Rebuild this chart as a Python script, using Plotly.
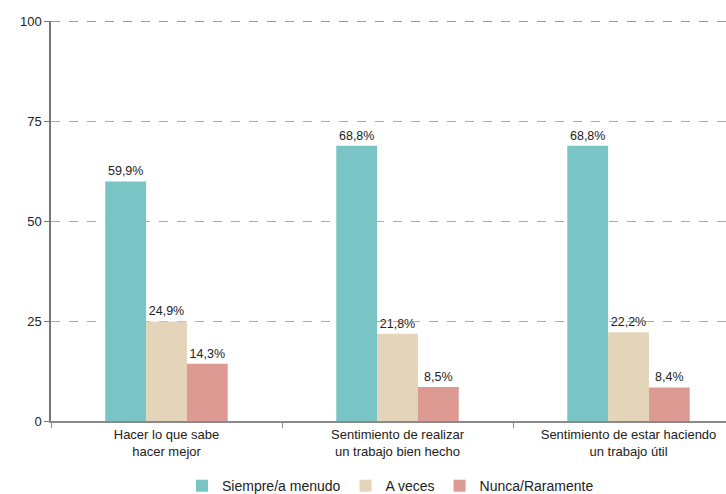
import plotly.graph_objects as go

categories = [
    "Hacer lo que sabe<br>hacer mejor",
    "Sentimiento de realizar<br>un trabajo bien hecho",
    "Sentimiento de estar haciendo<br>un trabajo útil",
]
series_names = ["Siempre/a menudo", "A veces", "Nunca/Raramente"]
siempre = [59.9, 68.8, 68.8]
a_veces = [24.9, 21.8, 22.2]
nunca = [14.3, 8.5, 8.4]
y_ticks = [0, 25, 50, 75, 100]

colors = ["#79C4C4", "#E3D4BA", "#DC9A92"]
font_family = "Liberation Sans, Arial, sans-serif"

fig = go.Figure()
for name, vals, col in zip(series_names, [siempre, a_veces, nunca], colors):
    fig.add_trace(go.Bar(
        name=name,
        x=categories,
        y=vals,
        marker=dict(color=col, line=dict(width=0)),
        texttemplate="%{y:.1f}%",
        textposition="outside",
        textfont=dict(size=12.5, color="#222222", family=font_family),
        cliponaxis=False,
    ))

fig.update_layout(
    width=726,
    height=494,
    margin=dict(l=51, r=0, t=21, b=73),
    paper_bgcolor="white",
    plot_bgcolor="white",
    separators=",.",
    barmode="group",
    bargap=0.47,
    bargroupgap=0,
    font=dict(family=font_family, size=13, color="#222222"),
    showlegend=True,
    legend=dict(
        orientation="h",
        x=0.503,
        xanchor="center",
        yref="container",
        y=0.016,
        yanchor="middle",
        font=dict(size=14, color="#222222"),
        itemwidth=30,
        traceorder="normal",
    ),
    xaxis=dict(
        range=[-0.5, 2.422],
        showgrid=False,
        showline=True,
        linecolor="#8a8a8a",
        linewidth=2,
        ticks="outside",
        tickson="boundaries",
        ticklen=5,
        tickcolor="#8a8a8a",
        tickfont=dict(size=13, color="#222222"),
        zeroline=False,
    ),
    yaxis=dict(
        range=[0, 100],
        tickvals=y_ticks,
        showgrid=True,
        gridcolor="#aaaaaa",
        griddash="dash",
        gridwidth=1,
        showline=True,
        linecolor="#777777",
        linewidth=1.5,
        ticks="outside",
        ticklen=5,
        tickcolor="#777777",
        tickfont=dict(size=13, color="#222222"),
        zeroline=False,
    ),
    shapes=[dict(
        type="line", xref="paper", yref="y",
        x0=0, x1=1, y0=y_ticks[-1], y1=y_ticks[-1],
        line=dict(color="#333333", width=1, dash="dash"),
        layer="above",
    )],
)

fig.write_html("out.html")
